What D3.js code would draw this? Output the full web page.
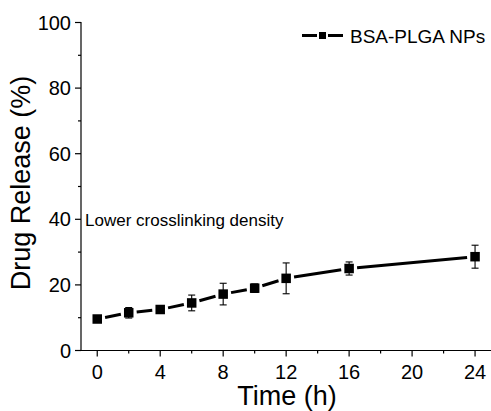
<!DOCTYPE html>
<html>
<head>
<meta charset="utf-8">
<script src="https://cdn.jsdelivr.net/npm/d3@7"></script>
<style>
  body { margin: 0; background: #fff; }
  svg text { font-family: Arial, "Liberation Sans", sans-serif; fill: #000; }
</style>
</head>
<body>
<div id="chart"></div>
<script>
// data
var times = [0, 2, 4, 6, 8, 10, 12, 16, 24];
var release = [9.6, 11.5, 12.5, 14.5, 17.2, 19.0, 22.0, 25.0, 28.6];
var errors = [0.8, 1.6, 0.8, 2.4, 3.3, 1.3, 4.7, 2.0, 3.5];
var xTicks = [0, 4, 8, 12, 16, 20, 24];
var yTicks = [0, 20, 40, 60, 80, 100];
var seriesName = 'BSA-PLGA NPs';
var note = 'Lower crosslinking density';

var width = 491, height = 411;
var svg = d3.select('#chart').append('svg')
    .attr('width', width)
    .attr('height', height);

var x = d3.scaleLinear().domain([-1, 25]).range([81.5, 490.8]);
var y = d3.scaleLinear().domain([0, 100]).range([350.5, 22.5]);

var data = times.map(function(t, i) {
  return {t: t, v: release[i], e: errors[i]};
});

// x axis
var xAxis = svg.append('g')
    .attr('transform', 'translate(0,350.5)');
xAxis.append('line')
    .attr('x1', 81).attr('x2', 491)
    .attr('stroke', '#000').attr('stroke-width', 1.2);
xAxis.selectAll('.minor')
    .data(d3.range(2, 25, 4))
    .enter().append('line')
    .attr('x1', function(d) { return x(d); })
    .attr('x2', function(d) { return x(d); })
    .attr('y1', 0).attr('y2', 3)
    .attr('stroke', '#000').attr('stroke-width', 1.2);
xAxis.selectAll('.major')
    .data(xTicks)
    .enter().append('line')
    .attr('x1', function(d) { return x(d); })
    .attr('x2', function(d) { return x(d); })
    .attr('y1', 0).attr('y2', 6)
    .attr('stroke', '#000').attr('stroke-width', 1.2);
xAxis.selectAll('text')
    .data(xTicks)
    .enter().append('text')
    .attr('x', function(d) { return x(d); })
    .attr('y', 28.5)
    .attr('text-anchor', 'middle')
    .style('font-size', '20px')
    .text(function(d) { return d; });

// y axis
var yAxis = svg.append('g')
    .attr('transform', 'translate(81,0)');
yAxis.append('line')
    .attr('y1', 22).attr('y2', 351)
    .attr('stroke', '#000').attr('stroke-width', 1.2);
yAxis.selectAll('.minor')
    .data(d3.range(10, 100, 20))
    .enter().append('line')
    .attr('y1', function(d) { return y(d); })
    .attr('y2', function(d) { return y(d); })
    .attr('x1', 0).attr('x2', -3)
    .attr('stroke', '#000').attr('stroke-width', 1.2);
yAxis.selectAll('.major')
    .data(yTicks)
    .enter().append('line')
    .attr('y1', function(d) { return y(d); })
    .attr('y2', function(d) { return y(d); })
    .attr('x1', 0).attr('x2', -6)
    .attr('stroke', '#000').attr('stroke-width', 1.2);
yAxis.selectAll('text')
    .data(yTicks)
    .enter().append('text')
    .attr('x', -10)
    .attr('y', function(d) { return y(d) + 7; })
    .attr('text-anchor', 'end')
    .style('font-size', '20px')
    .text(function(d) { return d; });

// titles
svg.append('text')
    .attr('x', 287)
    .attr('y', 405)
    .attr('text-anchor', 'middle')
    .style('font-size', '27px')
    .text('Time (h)');

svg.append('text')
    .attr('transform', 'translate(30,183) rotate(-90)')
    .attr('text-anchor', 'middle')
    .style('font-size', '27px')
    .text('Drug Release (%)');

svg.append('text')
    .attr('x', 85)
    .attr('y', 226)
    .style('font-size', '17px')
    .text(note);

// connecting line, broken around each symbol
var gap = 8;
var segs = d3.pairs(data).map(function(p) {
  var x1 = x(p[0].t), y1 = y(p[0].v), x2 = x(p[1].t), y2 = y(p[1].v);
  var len = Math.sqrt((x2 - x1) * (x2 - x1) + (y2 - y1) * (y2 - y1));
  var ux = (x2 - x1) / len, uy = (y2 - y1) / len;
  return [[x1 + ux * gap, y1 + uy * gap], [x2 - ux * gap, y2 - uy * gap]];
});
svg.selectAll('.seg')
    .data(segs)
    .enter().append('path')
    .attr('class', 'seg')
    .attr('d', d3.line())
    .attr('stroke', '#000')
    .attr('stroke-width', 3)
    .attr('fill', 'none');

// error bars
var eb = svg.selectAll('.err')
    .data(data)
    .enter().append('g')
    .attr('class', 'err')
    .attr('stroke', '#000')
    .attr('stroke-width', 1.1);
eb.append('line')
    .attr('x1', function(d) { return x(d.t); })
    .attr('x2', function(d) { return x(d.t); })
    .attr('y1', function(d) { return y(d.v - d.e); })
    .attr('y2', function(d) { return y(d.v + d.e); });
eb.append('line')
    .attr('x1', function(d) { return x(d.t) - 3.5; })
    .attr('x2', function(d) { return x(d.t) + 3.5; })
    .attr('y1', function(d) { return y(d.v + d.e); })
    .attr('y2', function(d) { return y(d.v + d.e); });
eb.append('line')
    .attr('x1', function(d) { return x(d.t) - 3.5; })
    .attr('x2', function(d) { return x(d.t) + 3.5; })
    .attr('y1', function(d) { return y(d.v - d.e); })
    .attr('y2', function(d) { return y(d.v - d.e); });

// symbols
var sz = 9.5;
svg.selectAll('.pt')
    .data(data)
    .enter().append('rect')
    .attr('class', 'pt')
    .attr('x', function(d) { return x(d.t) - sz / 2; })
    .attr('y', function(d) { return y(d.v) - sz / 2; })
    .attr('width', sz)
    .attr('height', sz)
    .attr('fill', '#000');

// legend
var lg = svg.append('g').attr('transform', 'translate(302,35.5)');
lg.append('line').attr('x1', 0).attr('x2', 15)
    .attr('stroke', '#000').attr('stroke-width', 3);
lg.append('line').attr('x1', 26).attr('x2', 41)
    .attr('stroke', '#000').attr('stroke-width', 3);
lg.append('rect').attr('x', 17).attr('y', -3.5)
    .attr('width', 7).attr('height', 7).attr('fill', '#000');
lg.append('text')
    .attr('x', 48)
    .attr('y', 7.5)
    .style('font-size', '19px')
    .text(seriesName);
</script>
</body>
</html>
